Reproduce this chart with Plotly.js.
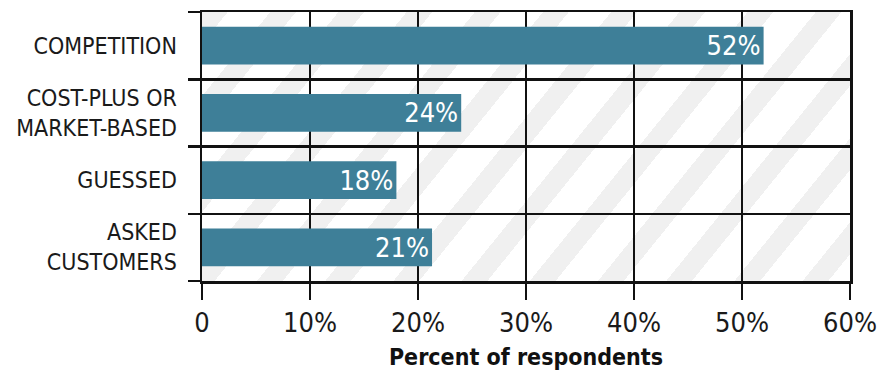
<!DOCTYPE html>
<html>
<head>
<meta charset="utf-8">
<script src="https://cdn.plot.ly/plotly-3.0.1.min.js"></script>
<style>
  html, body { margin: 0; padding: 0; background: #ffffff; }
  #wrap { position: relative; width: 879px; height: 378px; }
  #stripes {
    position: absolute; z-index: 0;
    background: repeating-linear-gradient(129deg, #f0f0f0 0px, #f0f0f0 20px, #ffffff 20px, #ffffff 53px);
  }
  #chart { position: absolute; left: 0; top: 0; width: 879px; height: 378px; z-index: 1; }
</style>
</head>
<body>
<div id="wrap">
  <div id="stripes"></div>
  <div id="chart"></div>
</div>
<script>
const categories = ["COMPETITION", "COST-PLUS OR<br>MARKET-BASED", "GUESSED", "ASKED<br>CUSTOMERS"];
const values = [52, 24, 18, 21.3];
const valueLabels = ["52%", "24%", "18%", "21%"];
const tickValues = [0, 10, 20, 30, 40, 50, 60];
const tickLabels = ["0", "10%", "20%", "30%", "40%", "50%", "60%"];

const FONT = '"DejaVu Sans Condensed", "Liberation Sans Narrow", sans-serif';

const n = categories.length;
const boundaryTicks = [];
for (let i = 0; i <= n; i++) boundaryTicks.push(i - 0.5);

const trace = {
  type: 'bar',
  orientation: 'h',
  x: values,
  y: categories,
  text: valueLabels,
  textposition: 'inside',
  insidetextanchor: 'end',
  textangle: 0,
  constraintext: 'none',
  insidetextfont: { family: FONT, size: 27, color: '#ffffff' },
  marker: { color: '#3e7f98', line: { width: 0 } },
  hoverinfo: 'none'
};

// invisible helper trace so the overlay axis (carrying only boundary tick marks) is drawn
const helper = {
  type: 'scatter', mode: 'none',
  x: [], y: [],
  xaxis: 'x', yaxis: 'y2',
  hoverinfo: 'none', showlegend: false
};

const layout = {
  width: 879, height: 378,
  margin: { l: 202, r: 29, t: 12, b: 97 },
  paper_bgcolor: 'rgba(0,0,0,0)',
  plot_bgcolor: 'rgba(0,0,0,0)',
  bargap: 0.44,
  showlegend: false,
  font: { family: FONT, color: '#1a1a1a' },
  xaxis: {
    range: [0, 60],
    tickvals: tickValues,
    ticktext: tickLabels,
    ticks: 'outside', ticklen: 16, tickwidth: 2.5, tickcolor: '#111',
    showgrid: true, gridcolor: '#111', gridwidth: 2.5,
    zeroline: false,
    showline: true, linecolor: '#111', linewidth: 2.5, mirror: true,
    tickfont: { family: FONT, size: 27, color: '#1a1a1a' },
    title: { text: 'Percent of respondents', font: { family: FONT, size: 23, color: '#111', weight: 'bold' }, standoff: 12 },
    fixedrange: true
  },
  yaxis: {
    type: 'category',
    categoryorder: 'array',
    categoryarray: categories,
    range: [n - 0.5, -0.5],
    tickson: 'boundaries',
    ticks: '',
    showgrid: true, gridcolor: '#111', gridwidth: 2.5,
    showline: true, linecolor: '#111', linewidth: 2.5, mirror: true,
    zeroline: false,
    ticklabelstandoff: 18,
    tickfont: { family: FONT, size: 23, color: '#1a1a1a' },
    fixedrange: true
  },
  yaxis2: {
    overlaying: 'y',
    side: 'left',
    range: [n - 0.5, -0.5],
    tickvals: boundaryTicks,
    ticks: 'outside', ticklen: 13, tickwidth: 2.5, tickcolor: '#111',
    showticklabels: false,
    showgrid: false, zeroline: false, showline: false,
    fixedrange: true
  }
};

Plotly.newPlot('chart', [trace, helper], layout, { displayModeBar: false, staticPlot: true }).then(function (gd) {
  const s = gd._fullLayout._size;
  const st = document.getElementById('stripes');
  st.style.left = s.l + 'px';
  st.style.top = s.t + 'px';
  st.style.width = s.w + 'px';
  st.style.height = s.h + 'px';
});
</script>
</body>
</html>
